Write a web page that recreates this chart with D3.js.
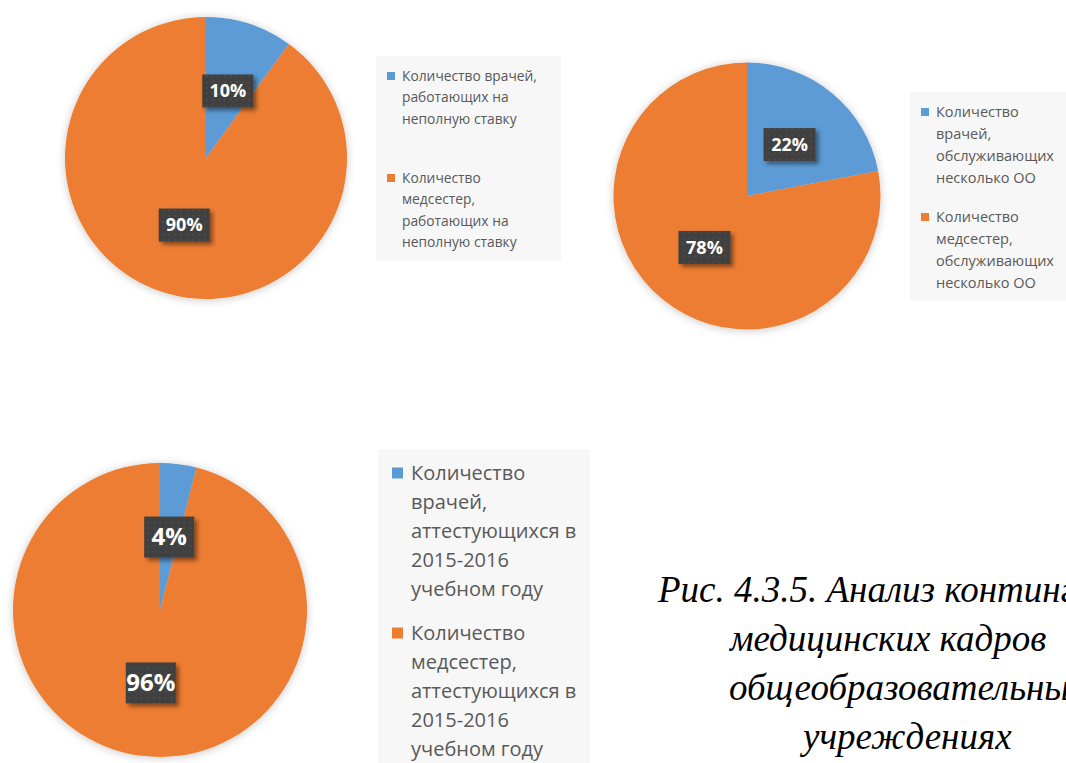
<!DOCTYPE html>
<html>
<head>
<meta charset="utf-8">
<script src="https://cdn.jsdelivr.net/npm/d3@7"></script>
<style>
  html, body { margin: 0; padding: 0; background: #fff; overflow: hidden; }
  svg { display: block; }
</style>
</head>
<body>
<div id="chart"></div>
<script>
// values
const partTimeValues = [10, 90];
const partTimeLegend = [
  ['Количество врачей,', 'работающих на', 'неполную ставку'],
  ['Количество', 'медсестер,', 'работающих на', 'неполную ставку']
];

const severalSchoolsValues = [22, 78];
const severalSchoolsLegend = [
  ['Количество', 'врачей,', 'обслуживающих', 'несколько ОО'],
  ['Количество', 'медсестер,', 'обслуживающих', 'несколько ОО']
];

const certifyingValues = [4, 96];
const certifyingLegend = [
  ['Количество', 'врачей,', 'аттестующихся в', '2015-2016', 'учебном году'],
  ['Количество', 'медсестер,', 'аттестующихся в', '2015-2016', 'учебном году']
];

const captionLines = [
  'Рис. 4.3.5. Анализ контингента',
  'медицинских кадров',
  'общеобразовательных',
  'учреждениях'
];

const colors = ['#5b9bd5', '#ed7d31'];

const width = 1066;
const height = 763;

const svg = d3.select('#chart')
  .append('svg')
  .attr('width', width)
  .attr('height', height);

const defs = svg.append('defs');

defs.append('filter')
  .attr('id', 'pie-shadow')
  .attr('x', '-20%').attr('y', '-20%')
  .attr('width', '140%').attr('height', '140%')
  .append('feDropShadow')
  .attr('dx', 0).attr('dy', 1)
  .attr('stdDeviation', 4)
  .attr('flood-color', '#000')
  .attr('flood-opacity', 0.22);

defs.append('filter')
  .attr('id', 'label-shadow')
  .attr('x', '-30%').attr('y', '-30%')
  .attr('width', '160%').attr('height', '160%')
  .append('feDropShadow')
  .attr('dx', 3).attr('dy', 3)
  .attr('stdDeviation', 2)
  .attr('flood-color', '#000')
  .attr('flood-opacity', 0.45);

// dotted dark fill of the data labels
const pat = defs.append('pattern')
  .attr('id', 'label-dots')
  .attr('width', 6).attr('height', 6)
  .attr('patternUnits', 'userSpaceOnUse');
pat.append('rect').attr('width', 6).attr('height', 6).attr('fill', '#404040');
pat.append('circle').attr('cx', 3).attr('cy', 3).attr('r', 1.1).attr('fill', '#4d4d4d');

const drawPie = (values, legendLines, cfg) => {
  const pie = d3.pie().sort(null).value((d) => d);
  const arc = d3.arc().innerRadius(0).outerRadius(cfg.r);
  const arcs = pie(values);

  const g = svg.append('g')
    .attr('transform', `translate(${cfg.cx},${cfg.cy})`);

  g.append('g')
    .attr('filter', 'url(#pie-shadow)')
    .selectAll('path')
    .data(arcs)
    .enter()
    .append('path')
    .attr('d', arc)
    .attr('fill', (d, i) => colors[i]);

  const labels = g.selectAll('.lbl')
    .data(arcs)
    .enter()
    .append('g')
    .attr('class', 'lbl')
    .attr('transform', (d) => `translate(${arc.centroid(d)})`);

  labels.append('rect')
    .attr('x', -cfg.boxW / 2)
    .attr('y', -cfg.boxH / 2)
    .attr('width', cfg.boxW)
    .attr('height', cfg.boxH)
    .attr('fill', 'url(#label-dots)')
    .attr('filter', 'url(#label-shadow)');

  labels.append('text')
    .attr('text-anchor', 'middle')
    .attr('dy', '0.35em')
    .style('font-family', '"Open Sans", "Noto Sans", sans-serif')
    .style('font-weight', 'bold')
    .style('font-size', cfg.labelSize + 'px')
    .style('fill', '#fff')
    .text((d) => d.data + '%');

  // legend
  const lg = svg.append('g')
    .attr('transform', `translate(${cfg.lx},${cfg.ly})`);
  lg.append('rect')
    .attr('width', cfg.lw)
    .attr('height', cfg.lh)
    .attr('fill', '#f7f7f7');

  const items = lg.selectAll('.item')
    .data(legendLines)
    .enter()
    .append('g')
    .attr('class', 'item')
    .attr('transform', (d, i) => `translate(0,${cfg.firstY + i * cfg.itemGap})`);

  items.append('rect')
    .attr('x', cfg.markX)
    .attr('y', -cfg.mark / 2)
    .attr('width', cfg.mark)
    .attr('height', cfg.mark)
    .attr('fill', (d, i) => colors[i]);

  items.append('text')
    .attr('x', cfg.textX)
    .style('font-family', '"Open Sans", "Noto Sans", sans-serif')
    .style('font-size', cfg.legendSize + 'px')
    .style('fill', '#595959')
    .selectAll('tspan')
    .data((d) => d)
    .enter()
    .append('tspan')
    .attr('x', cfg.textX)
    .attr('y', (d, i) => i * cfg.lineH)
    .attr('dy', '0.35em')
    .text((d) => d);
};

drawPie(partTimeValues, partTimeLegend, {
  cx: 206, cy: 158, r: 141,
  boxW: 51, boxH: 33, labelSize: 18,
  lx: 376, ly: 56, lw: 185, lh: 205,
  firstY: 20, itemGap: 102, lineH: 21.5,
  markX: 11, mark: 8, textX: 26, legendSize: 13.8
});

drawPie(severalSchoolsValues, severalSchoolsLegend, {
  cx: 747, cy: 196, r: 133.5,
  boxW: 52, boxH: 33, labelSize: 18,
  lx: 910, ly: 92, lw: 170, lh: 209,
  firstY: 20, itemGap: 105, lineH: 22,
  markX: 11, mark: 8, textX: 26, legendSize: 14.5
});

drawPie(certifyingValues, certifyingLegend, {
  cx: 160, cy: 610, r: 147,
  boxW: 50, boxH: 41, labelSize: 24,
  lx: 378, ly: 449, lw: 212, lh: 320,
  firstY: 24, itemGap: 160, lineH: 29,
  markX: 14, mark: 11, textX: 33, legendSize: 20
});

// caption (cut off at the right edge, as in the source)
const caption = svg.append('g')
  .style('font-family', '"Liberation Serif", "Times New Roman", serif')
  .style('font-style', 'italic')
  .style('font-size', '37px')
  .style('fill', '#000');

const captionX = [658, 730, 729, 803];
caption.selectAll('text')
  .data(captionLines)
  .enter()
  .append('text')
  .attr('x', (d, i) => captionX[i])
  .attr('y', (d, i) => 602 + i * 49)
  .text((d) => d);
</script>
</body>
</html>
